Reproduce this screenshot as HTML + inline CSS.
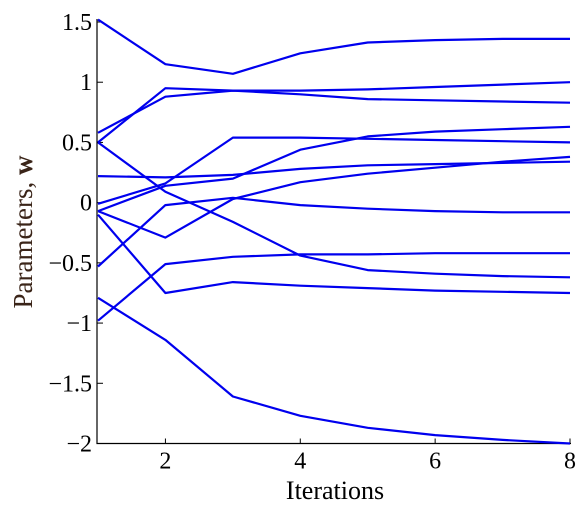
<!DOCTYPE html>
<html><head><meta charset="utf-8"><style>
body{margin:0;background:#fff;}
text{font-family:"Liberation Serif","DejaVu Serif",serif;}
</style></head><body>
<svg id="chart" width="583" height="508" xmlns="http://www.w3.org/2000/svg" font-family="Liberation Serif, DejaVu Serif, serif">
<g id="axes"></g><g id="series"></g>
</svg>
<script>
const iterations=[1,2,3,4,5,6,7,8];
const s1=[1.52,1.15,1.07,1.24,1.33,1.35,1.36,1.36];
const s2=[0.50,0.95,0.93,0.93,0.94,0.96,0.98,1.00];
const s3=[0.58,0.88,0.93,0.90,0.86,0.85,0.84,0.83];
const s4=[0.50,0.09,-0.16,-0.44,-0.56,-0.59,-0.61,-0.62];
const s5=[0.22,0.21,0.23,0.28,0.31,0.32,0.33,0.34];
const s6=[-0.01,0.16,0.54,0.54,0.53,0.52,0.51,0.50];
const s7=[-0.07,0.14,0.20,0.44,0.55,0.59,0.61,0.63];
const s8=[-0.07,-0.29,0.03,0.17,0.24,0.29,0.34,0.38];
const s9=[-0.10,-0.75,-0.66,-0.69,-0.71,-0.73,-0.74,-0.75];
const s10=[-0.53,-0.02,0.04,-0.02,-0.05,-0.07,-0.08,-0.08];
const s11=[-0.98,-0.51,-0.45,-0.43,-0.43,-0.42,-0.42,-0.42];
const s12=[-0.79,-1.14,-1.61,-1.77,-1.87,-1.93,-1.97,-2.00];
const allSeries=[s1,s2,s3,s4,s5,s6,s7,s8,s9,s10,s11,s12];
const yTicks=[1.5,1,0.5,0,-0.5,-1,-1.5,-2];
const yTickLabels=["1.5","1","0.5","0","\u22120.5","\u22121","\u22121.5","\u22122"];
const xTicks=[2,4,6,8];
const xTickLabels=["2","4","6","8"];

const X0=98, X1=570, Y0=22, Y1=443.5;
const xs=v=>X0+(v-1)/(8-1)*(X1-X0);
const ys=v=>Y0+(1.5-v)/(3.5)*(Y1-Y0);
const NS="http://www.w3.org/2000/svg";
const FF="Liberation Serif, DejaVu Serif, serif";
const axes=document.getElementById('axes'), ser=document.getElementById('series');
function mk(tag,attrs,parent){const e=document.createElementNS(NS,tag);for(const k in attrs)e.setAttribute(k,attrs[k]);parent.appendChild(e);return e;}

let a=mk('path',{d:`M${X0-1} ${Y0-3} V${Y1} H${X1+1}`,fill:'none',stroke:'#000','stroke-width':1.2},axes);


yTicks.forEach((v,i)=>{
  const t=mk('line',{x1:X0-1,x2:X0+5,y1:ys(v),y2:ys(v),stroke:'#000','stroke-width':1},axes);
  
  
  const l=mk('text',{x:X0-6,y:ys(v)+8,'text-anchor':'end','font-size':24,fill:'#000','font-family':FF},axes);
  l.textContent=yTickLabels[i];
  
  
});
xTicks.forEach((v,i)=>{
  const t=mk('line',{x1:xs(v),x2:xs(v),y1:Y1,y2:Y1-5,stroke:'#000','stroke-width':1},axes);
  
  
  const l=mk('text',{x:xs(v),y:Y1+25,'text-anchor':'middle','font-size':24,fill:'#000','font-family':FF},axes);
  l.textContent=xTickLabels[i];
  
  
});
const xt=mk('text',{x:335,y:499,'text-anchor':'middle','font-size':26,fill:'#000','font-family':FF},axes);
xt.textContent='Iterations';


const yt=mk('text',{x:0,y:0,transform:'translate(32,232) rotate(-90)','text-anchor':'middle','font-size':27,fill:'#3a2418','font-family':FF},axes);
yt.innerHTML='Parameters, <tspan font-weight="bold">w</tspan>';



allSeries.forEach((s,k)=>{
  const d=s.map((v,i)=>(i?'L':'M')+xs(iterations[i]).toFixed(1)+' '+ys(v).toFixed(1)).join(' ');
  const p=mk('path',{d:d,fill:'none',stroke:'#0000ee','stroke-width':2.2,'stroke-linejoin':'round'},ser);
  
  
});
</script>
</body></html>
